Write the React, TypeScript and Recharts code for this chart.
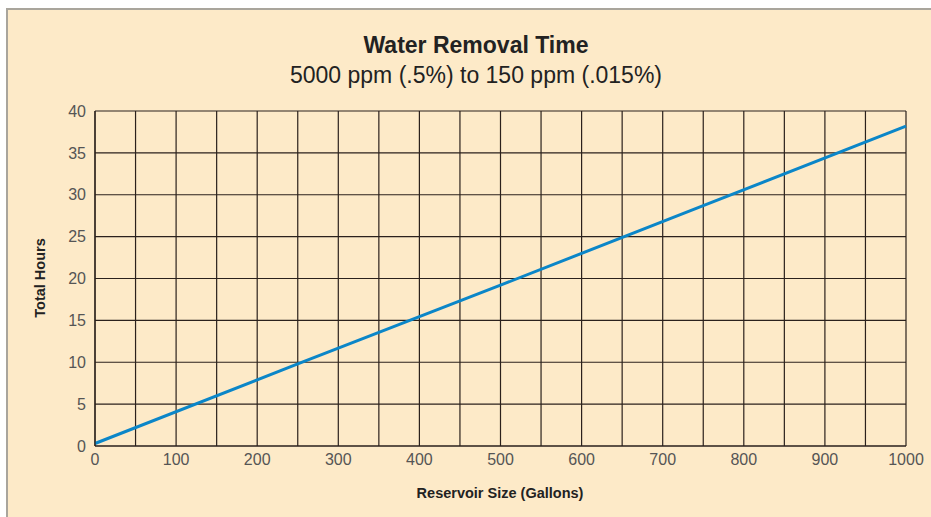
import React from 'react';
import { LineChart, Line, XAxis, YAxis, CartesianGrid } from 'recharts';

const gallons = [0, 250, 500, 750, 1000];
const hours = [0.3, 9.8, 19.2, 28.7, 38.2];
const xTicks = [0, 50, 100, 150, 200, 250, 300, 350, 400, 450, 500, 550, 600, 650, 700, 750, 800, 850, 900, 950, 1000];
const yTicks = [0, 5, 10, 15, 20, 25, 30, 35, 40];

const data = gallons.map((g, i) => ({ g, h: hours[i] }));

const font = '"Liberation Sans", Arial, sans-serif';

export default function App() {
  return (
    <div style={{ position: 'absolute', left: 0, top: 0, width: 931, height: 517, background: '#fff', overflow: 'hidden', fontFamily: font }}>
      <div style={{ position: 'absolute', left: 6, top: 8, width: 925, height: 509, background: '#FDEAC8', borderLeft: '2px solid #a9a59c', borderTop: '2px solid #a9a59c' }} />
      <div style={{ position: 'absolute', left: 0, top: 0 }}>
        <LineChart width={931} height={517} data={data} margin={{ top: 111, right: 25, bottom: 41, left: 35 }}>
          <CartesianGrid stroke="#2b211c" strokeWidth={1.2} />
          <XAxis
            dataKey="g"
            type="number"
            domain={[0, 1000]}
            ticks={xTicks}
            interval={0}
            tickFormatter={(v: number) => (v % 100 === 0 ? String(v) : '')}
            tickLine={false}
            axisLine={{ stroke: '#2b211c', strokeWidth: 1.2 }}
            tick={{ fill: '#555', fontSize: 16, fontFamily: font }}
            tickMargin={2}
            height={30}
          />
          <XAxis xAxisId="top" dataKey="g" type="number" domain={[0, 1000]} orientation="top" height={0} tick={false} tickLine={false} axisLine={{ stroke: '#6e6a66', strokeWidth: 1.5 }} />
          <YAxis
            type="number"
            domain={[0, 40]}
            ticks={yTicks}
            interval={0}
            tickLine={false}
            axisLine={{ stroke: '#2b211c', strokeWidth: 1.2 }}
            tick={{ fill: '#555', fontSize: 16, fontFamily: font }}
            tickMargin={3}
            width={60}
          />
          <YAxis yAxisId="right" type="number" domain={[0, 40]} orientation="right" width={0} tick={false} tickLine={false} axisLine={{ stroke: '#8a857f', strokeWidth: 2 }} />
          <Line dataKey="h" stroke="#0b86c8" strokeWidth={3} dot={false} isAnimationActive={false} type="linear" />
        </LineChart>
      </div>
      <div style={{ position: 'absolute', left: 0, width: 952, top: 31, textAlign: 'center', fontSize: 23, fontWeight: 'bold', color: '#222', lineHeight: '28px' }}>Water Removal Time</div>
      <div style={{ position: 'absolute', left: 0, width: 952, top: 61, textAlign: 'center', fontSize: 23, color: '#222', lineHeight: '28px' }}>5000 ppm (.5%) to 150 ppm (.015%)</div>
      <div style={{ position: 'absolute', left: 500 - 150, width: 300, top: 484, textAlign: 'center', fontSize: 14.5, fontWeight: 'bold', color: '#222', lineHeight: '18px' }}>Reservoir Size (Gallons)</div>
      <div style={{ position: 'absolute', left: 40 - 100, width: 200, top: 269, textAlign: 'center', fontSize: 14.5, fontWeight: 'bold', color: '#222', lineHeight: '18px', transform: 'rotate(-90deg)' }}>Total Hours</div>
    </div>
  );
}
